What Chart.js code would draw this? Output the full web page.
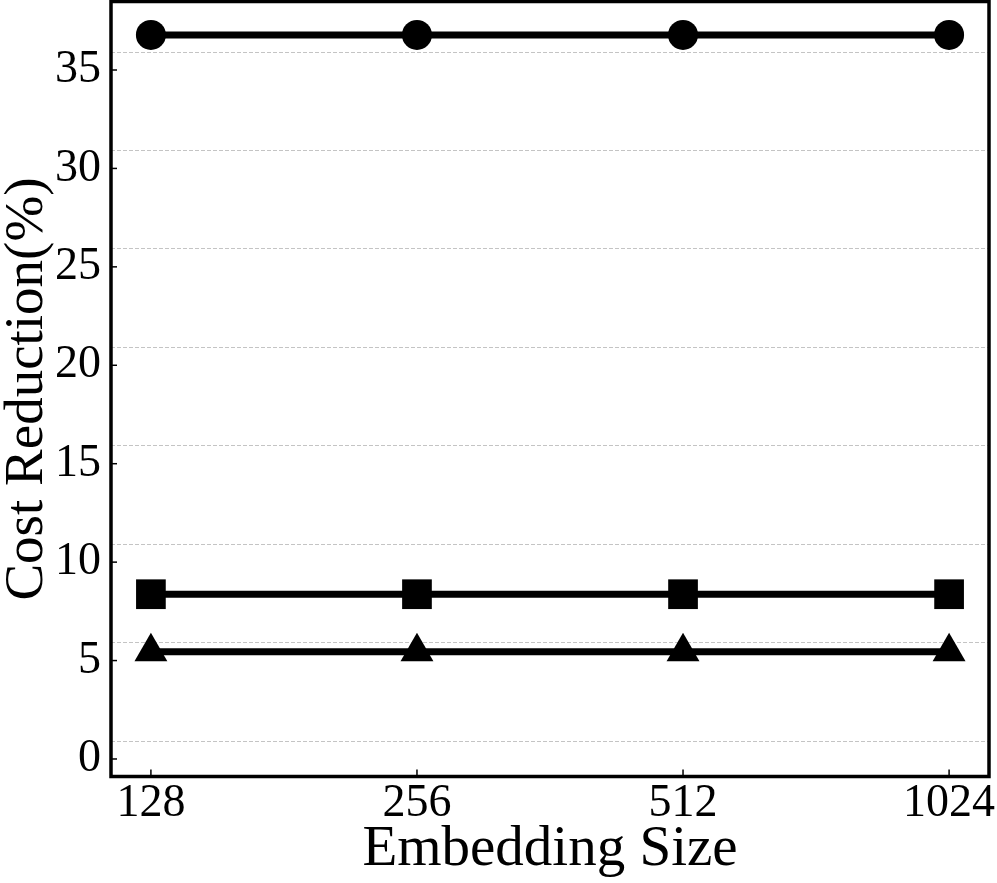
<!DOCTYPE html>
<html lang="en">
<head>
  <meta charset="UTF-8">
  <title>Cost Reduction vs Embedding Size</title>
  <script src="https://cdn.jsdelivr.net/npm/chart.js"></script>
  <style>
    body { margin: 0; background: #fff; }
    #wrap { width: 997px; height: 883px; }
  </style>
</head>
<body>
  <div id="wrap"><canvas id="chart" width="997" height="883"></canvas></div>

  <script>
    // data
    const embeddingSizes = ['128', '256', '512', '1024'];
    const xPositions = [0, 1, 2, 3];
    const circleSeries = [36.78, 36.78, 36.78, 36.78];
    const squareSeries = [8.37, 8.37, 8.37, 8.37];
    const triangleSeries = [5.45, 5.45, 5.45, 5.45];
    const yTickValues = [0, 5, 10, 15, 20, 25, 30, 35];

    const serif = '"Liberation Serif", "DejaVu Serif", serif';
    const yMin = -0.89, yMax = 38.48;
    const gridShift = 0.91; // dashed grid sits a bit above the tick marks in the original

    const toPoints = vals => vals.map((v, i) => ({ x: xPositions[i], y: v }));

    const makeSet = (vals, style, radius) => ({
      data: toPoints(vals),
      borderColor: '#000',
      backgroundColor: '#000',
      borderWidth: 7,
      pointStyle: style,
      pointRadius: radius,
      pointHoverRadius: radius,
      pointBorderWidth: 0,
      tension: 0
    });

    const noPad = s => { s.paddingTop = 0; s.paddingBottom = 0; s.paddingLeft = 0; s.paddingRight = 0; };

    // frame + inward tick marks
    const framePlugin = {
      id: 'frame',
      afterDraw(chart) {
        const { ctx, chartArea: a, scales } = chart;
        ctx.save();
        ctx.strokeStyle = '#000';
        ctx.lineWidth = 1.5;
        scales.y.ticks.forEach(t => {
          const py = scales.y.getPixelForValue(t.value);
          ctx.beginPath(); ctx.moveTo(a.left, py); ctx.lineTo(a.left + 6, py); ctx.stroke();
        });
        scales.x.ticks.forEach(t => {
          const px = scales.x.getPixelForValue(t.value);
          ctx.beginPath(); ctx.moveTo(px, a.bottom); ctx.lineTo(px, a.bottom - 7); ctx.stroke();
        });
        ctx.lineWidth = 3.5;
        ctx.strokeRect(a.left, a.top, a.right - a.left, a.bottom - a.top);
        ctx.restore();
      }
    };

    new Chart(document.getElementById('chart'), {
      type: 'line',
      data: {
        datasets: [
          makeSet(circleSeries, 'circle', 15),
          makeSet(squareSeries, 'rect', 21),
          makeSet(triangleSeries, 'triangle', 19)
        ]
      },
      options: {
        responsive: false,
        animation: false,
        clip: false,
        layout: { autoPadding: false, padding: { left: 0, right: 8, top: 1.5, bottom: 0 } },
        plugins: { legend: { display: false }, tooltip: { enabled: false } },
        scales: {
          x: {
            type: 'linear',
            min: -0.15,
            max: 3.15,
            afterBuildTicks: s => { s.ticks = xPositions.map(v => ({ value: v })); },
            afterFit: s => { s.height = 106.5; noPad(s); },
            grid: { display: false, drawTicks: false },
            border: { display: false },
            ticks: {
              padding: 0,
              color: '#000',
              font: { family: serif, size: 46 },
              callback: v => embeddingSizes[v]
            },
            title: {
              display: true,
              text: 'Embedding Size',
              color: '#000',
              font: { family: serif, size: 57, lineHeight: 1 },
              padding: { top: 0, bottom: 4 }
            }
          },
          y: {
            min: yMin,
            max: yMax,
            afterBuildTicks: s => { s.ticks = yTickValues.map(v => ({ value: v })); },
            afterFit: s => { s.width = 111; noPad(s); },
            grid: { display: false, drawTicks: false },
            border: { display: false },
            ticks: {
              padding: 10,
              color: '#000',
              font: { family: serif, size: 46 }
            },
            title: {
              display: true,
              text: 'Cost Reduction(%)',
              color: '#000',
              font: { family: serif, size: 55, lineHeight: 1 },
              padding: { top: 0, bottom: 0 }
            }
          },
          yg: {
            position: 'right',
            min: yMin - gridShift,
            max: yMax - gridShift,
            afterBuildTicks: s => { s.ticks = yTickValues.map(v => ({ value: v })); },
            afterFit: s => { s.width = 0; noPad(s); },
            ticks: { display: false },
            border: { display: false, dash: [4, 2] },
            grid: { color: '#c4c4c4', lineWidth: 1, drawTicks: false }
          }
        }
      },
      plugins: [framePlugin]
    });
  </script>
</body>
</html>
